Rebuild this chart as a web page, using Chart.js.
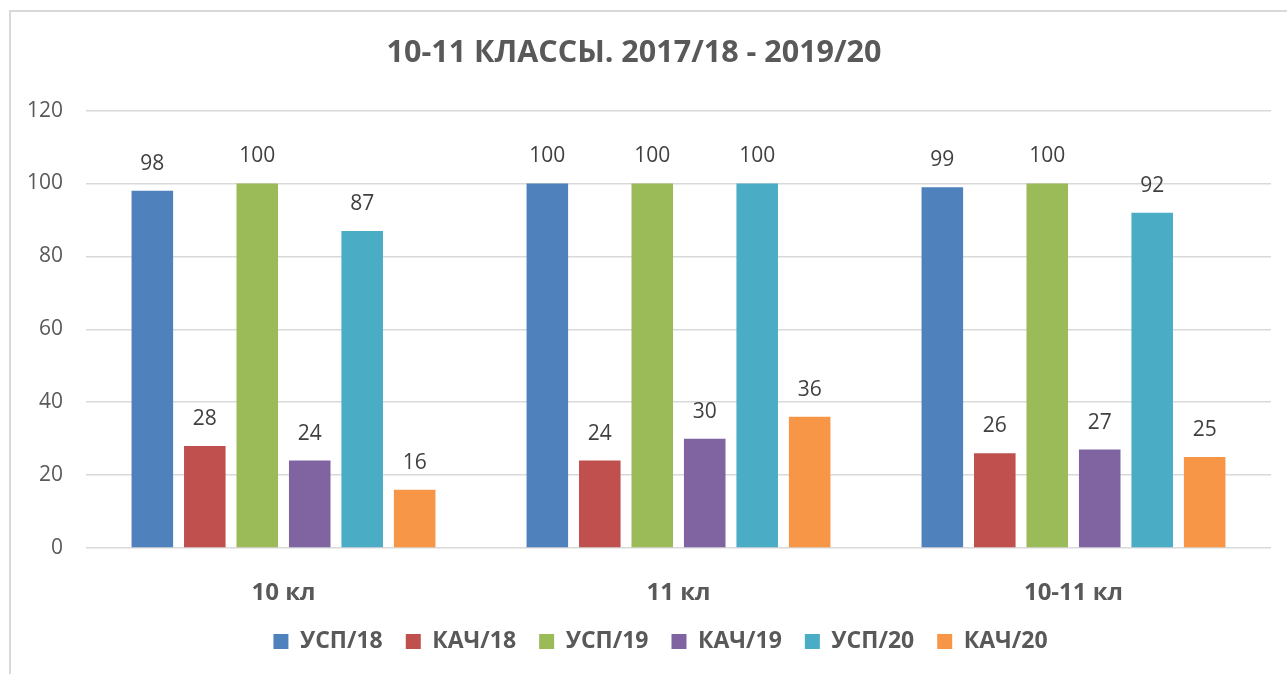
<!DOCTYPE html>
<html>
<head>
<meta charset="utf-8">
<script src="https://cdn.jsdelivr.net/npm/chart.js@4"></script>
<style>
    html, body { margin: 0; padding: 0; background: #ffffff; overflow: hidden; }
    #cadre { position: absolute; left: 9px; top: 10px; width: 1400px; height: 800px; border: 2px solid #d9d9d9; }
    #zone { position: absolute; left: 0; top: 0; width: 1287px; height: 674px; }
</style>
</head>
<body>
<div id="cadre"></div>
<div id="zone"><canvas id="myChart" width="1287" height="674"></canvas></div>
<script>
// Données du graphique
var categories = ['10 кл', '11 кл', '10-11 кл'];
var seriesNames = ['УСП/18', 'КАЧ/18', 'УСП/19', 'КАЧ/19', 'УСП/20', 'КАЧ/20'];
var usp18 = [98, 100, 99];
var kach18 = [28, 24, 26];
var usp19 = [100, 100, 100];
var kach19 = [24, 30, 27];
var usp20 = [87, 100, 92];
var kach20 = [16, 36, 25];
var yTicks = [0, 20, 40, 60, 80, 100, 120];

var seriesValues = [usp18, kach18, usp19, kach19, usp20, kach20];
var seriesColors = ['#4f81bd', '#c0504d', '#9bbb59', '#8064a2', '#4bacc6', '#f79646'];

var datasets = [];
for (var i = 0; i < seriesNames.length; i++) {
    datasets.push({
        label: seriesNames[i],
        data: seriesValues[i],
        backgroundColor: seriesColors[i],
        borderWidth: 0,
        categoryPercentage: 0.797,
        barPercentage: 0.792
    });
}

// Étiquettes de valeurs au-dessus des barres
var valueLabels = {
    id: 'valueLabels',
    afterDatasetsDraw: function (chart) {
        var ctx = chart.ctx;
        ctx.save();
        ctx.font = '21px "Open Sans"';
        ctx.fillStyle = '#404040';
        ctx.textAlign = 'center';
        ctx.textBaseline = 'middle';
        chart.data.datasets.forEach(function (ds, d) {
            var meta = chart.getDatasetMeta(d);
            meta.data.forEach(function (bar, j) {
                ctx.fillText(ds.data[j], bar.x, bar.y - 27);
            });
        });
        ctx.restore();
    }
};

// Petit décalage du titre et de la légende comme dans l'original
var shiftBlocks = {
    id: 'shiftBlocks',
    afterLayout: function (chart) {
        chart.titleBlock.left -= 1.5;
        chart.titleBlock.right -= 1.5;
        chart.legend.left += 25;
        chart.legend.right += 25;
    }
};

var ctx = document.getElementById('myChart').getContext('2d');
var myChart = new Chart(ctx, {
    type: 'bar',
    data: {
        labels: categories,
        datasets: datasets
    },
    plugins: [valueLabels, shiftBlocks],
    options: {
        responsive: false,
        animation: false,
        layout: {
            padding: { top: 0, left: 0, right: 16, bottom: 11 }
        },
        plugins: {
            title: {
                display: true,
                text: '10-11 КЛАССЫ. 2017/18 - 2019/20',
                color: '#595959',
                font: { family: 'Open Sans', size: 30.5, weight: 'bold', lineHeight: 1.2 },
                padding: { top: 35, bottom: 39 }
            },
            legend: {
                position: 'bottom',
                labels: {
                    color: '#595959',
                    font: { family: 'Open Sans', size: 23, weight: 'bold' },
                    boxWidth: 15,
                    boxHeight: 15,
                    padding: 23
                }
            },
            tooltip: { enabled: false }
        },
        scales: {
            x: {
                grid: { display: false },
                border: { display: false },
                ticks: {
                    color: '#595959',
                    font: { family: 'Open Sans', size: 24, weight: 'bold' },
                    padding: 23
                },
                afterFit: function (scale) { scale.height = 59; }
            },
            y: {
                min: 0,
                max: 120,
                border: { display: false },
                grid: { color: '#d9d9d9', lineWidth: 1.5, drawTicks: false },
                afterBuildTicks: function (scale) {
                    scale.ticks = yTicks.map(function (v) { return { value: v }; });
                },
                ticks: {
                    color: '#595959',
                    font: { family: 'Open Sans', size: 21 },
                    padding: 23
                },
                afterFit: function (scale) { scale.width = 86; }
            }
        }
    }
});
</script>
</body>
</html>
